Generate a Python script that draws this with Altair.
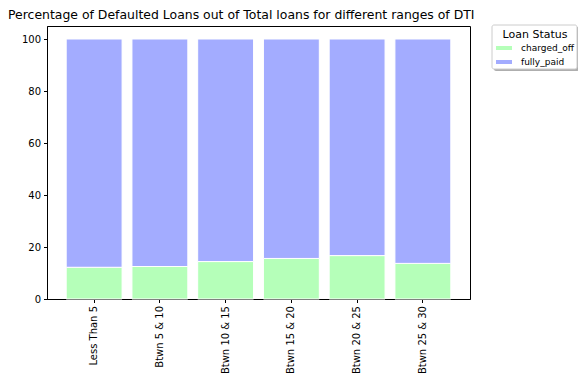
import altair as alt
import pandas as pd

categories = ["Less Than 5", "Btwn 5 & 10", "Btwn 10 & 15", "Btwn 15 & 20", "Btwn 20 & 25", "Btwn 25 & 30"]
charged_off = [12.2, 12.5, 14.4, 15.6, 16.7, 13.7]
fully_paid = [round(100 - v, 1) for v in charged_off]
statuses = ["charged_off", "fully_paid"]
colors = ["#b5ffb9", "#a3acff"]

rows = []
for c, co, fp in zip(categories, charged_off, fully_paid):
    rows.append({"range": c, "status": "charged_off", "pct": co, "ord": 0})
    rows.append({"range": c, "status": "fully_paid", "pct": fp, "ord": 1})
df = pd.DataFrame(rows)

FONT = "DejaVu Sans"

bars = alt.Chart(df).mark_bar(stroke="white", strokeWidth=1).encode(
    x=alt.X("range:N", sort=categories, title=None,
            scale=alt.Scale(paddingInner=0.15, paddingOuter=0.292),
            axis=alt.Axis(labelAngle=-90, labelFontSize=10, labelColor="black",
                          tickColor="black", tickSize=3.5, domainColor="black",
                          labelPadding=3, labelFont=FONT)),
    y=alt.Y("pct:Q", stack="zero", title=None,
            scale=alt.Scale(domain=[0, 105], nice=False),
            axis=alt.Axis(values=[0, 20, 40, 60, 80, 100], grid=False, labelFontSize=10,
                          labelColor="black", tickColor="black", tickSize=3.5,
                          domainColor="black", labelPadding=3, labelFont=FONT)),
    color=alt.Color("status:N", scale=alt.Scale(domain=statuses, range=colors),
                    legend=alt.Legend(title="Loan Status", orient="none", legendX=445, legendY=-1,
                                      padding=4, titleAnchor="middle", titleFontSize=11,
                                      titleFontWeight="normal", titleColor="black", titleFont=FONT,
                                      labelFontSize=9, labelColor="black", labelFont=FONT,
                                      symbolType="M-1,-0.25L1,-0.25L1,0.25L-1,0.25Z",
                                      symbolSize=256, symbolStrokeWidth=0, rowPadding=1,
                                      labelOffset=9, titlePadding=0)),
    order=alt.Order("ord:Q", sort="ascending"),
)

box_df = pd.DataFrame({"a": [0]})
shadow = alt.Chart(box_df).mark_rect(fill="#9a9a9a", opacity=0.8, cornerRadius=2).encode(
    x=alt.value(447), x2=alt.value(532), y=alt.value(1), y2=alt.value(45)
)
box = alt.Chart(box_df).mark_rect(fill="white", stroke="#cccccc", strokeWidth=1, cornerRadius=2).encode(
    x=alt.value(445), x2=alt.value(530), y=alt.value(-1), y2=alt.value(43)
)

chart = alt.layer(shadow, box, bars).properties(
    width=423, height=273,
    title=alt.TitleParams("Percentage of Defaulted Loans out of Total loans for different ranges of DTI",
                          anchor="start", frame="group", fontSize=12.45, font=FONT, fontWeight="normal",
                          color="black", dx=-39, offset=3),
    autosize=alt.AutoSizeParams(type="none"),
    padding={"left": 39, "top": 18, "right": 108, "bottom": 84},
).configure(font=FONT).configure_view(stroke="black", strokeWidth=1)

chart.save("out.html", embed_options={"renderer": "svg", "actions": False})
